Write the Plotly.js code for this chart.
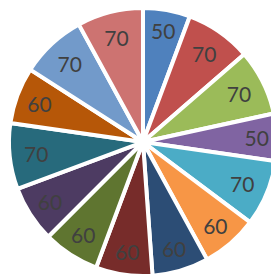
<!DOCTYPE html>
<html>
<head>
<meta charset="utf-8">
<script src="https://cdn.plot.ly/plotly-3.0.1.min.js"></script>
<style>html,body{margin:0;padding:0;overflow:hidden;background:#fff}#chart{width:290px;height:280px}</style>
</head>
<body>
<div id="chart"></div>
<script>
const categories = ["1","2","3","4","5","6","7","8","9","10","11","12","13","14"];
const values = [50, 70, 70, 50, 70, 60, 60, 60, 60, 60, 70, 60, 70, 70];
const colors = ["#4F81BD","#C0504D","#9BBB59","#8064A2","#4BACC6","#F79646",
                "#2C4D75","#772C2A","#5F7530","#4D3B62","#276A7C","#B65708",
                "#729ACA","#CD7371"];

Plotly.newPlot("chart", [{
  type: "pie",
  labels: categories,
  values: values,
  sort: false,
  direction: "clockwise",
  rotation: 0,
  marker: {colors: colors, line: {color: "#ffffff", width: 4}},
  textinfo: "value",
  textposition: "inside",
  insidetextorientation: "horizontal",
  textfont: {family: "Lato, 'Open Sans', sans-serif", size: 21, color: "#404040"},
  hoverinfo: "none",
  domain: {x: [0.031, 0.955], y: [0.0143, 0.9714]}
}], {
  width: 290, height: 280,
  margin: {l: 0, r: 0, t: 0, b: 0},
  showlegend: false,
  paper_bgcolor: "#ffffff"
}, {displayModeBar: false, staticPlot: true});
</script>
</body>
</html>
